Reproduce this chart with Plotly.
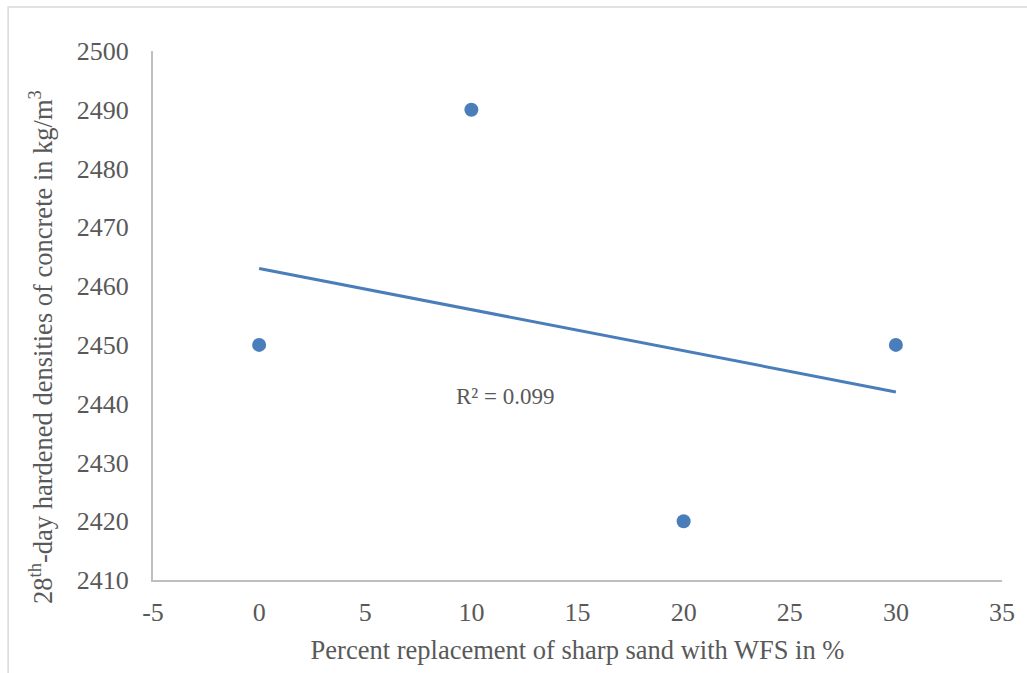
import numpy as np
import plotly.graph_objects as go

replacement = [0, 10, 20, 30]
density = [2450, 2490, 2420, 2450]
x_ticks = [-5, 0, 5, 10, 15, 20, 25, 30, 35]
x_tick_labels = ["-5", "0", "5", "10", "15", "20", "25", "30", "35"]
y_ticks = [2410, 2420, 2430, 2440, 2450, 2460, 2470, 2480, 2490, 2500]

xs = np.array(replacement, dtype=float)
ys = np.array(density, dtype=float)
slope, intercept = np.polyfit(xs, ys, 1)
fit = slope * xs + intercept
r2 = 1 - np.sum((ys - fit) ** 2) / np.sum((ys - ys.mean()) ** 2)

blue = "#4a7ebb"
grey = "#595959"
font = "'Liberation Serif', 'Times New Roman', 'DejaVu Serif', serif"

fig = go.Figure()
fig.add_trace(go.Scatter(x=[xs.min(), xs.max()], y=[fit[0], fit[-1]], mode="lines",
                         line=dict(color=blue, width=3), hoverinfo="skip", showlegend=False))
fig.add_trace(go.Scatter(x=replacement, y=density, mode="markers",
                         marker=dict(color=blue, size=14), showlegend=False))

fig.add_annotation(x=11.6, y=2441.2, text=f"R² = {r2:.3f}", showarrow=False,
                   font=dict(family=font, size=23, color=grey))

# y-axis title (placed as annotation to match reference's vertical offset)
fig.add_annotation(xref="paper", yref="paper", x=-0.132, y=0.4405, textangle=-90,
                   text="28<sup>th</sup>-day hardened densities of concrete in kg/m<sup>3</sup>",
                   showarrow=False, xanchor="center", yanchor="middle",
                   font=dict(size=26.5, family=font, color=grey))

fig.add_shape(type="rect", xref="paper", yref="paper", x0=-0.1706, y0=-0.2, x1=1.05, y1=1.083,
              line=dict(color="#d9d9d9", width=1.5), layer="below")

fig.update_layout(
    width=1027, height=673,
    margin=dict(l=153, r=18, t=51, b=93),
    plot_bgcolor="white", paper_bgcolor="white",
    font=dict(family=font, color=grey),
    xaxis=dict(range=[-5, 35], tickvals=x_ticks, ticktext=x_tick_labels, showgrid=False, zeroline=False,
               showline=True, linecolor="#bfbfbf", linewidth=2, ticks="", ticklabelstandoff=8,
               tickfont=dict(size=26, family=font, color=grey),
               title=dict(text="Percent replacement of sharp sand with WFS in %",
                          font=dict(size=26.5, family=font, color=grey), standoff=14)),
    yaxis=dict(range=[2410, 2500], tickvals=y_ticks, showgrid=False, zeroline=False,
               showline=True, linecolor="#bfbfbf", linewidth=2, ticks="", ticklabelstandoff=17,
               tickfont=dict(size=26, family=font, color=grey)),
)

fig.write_html("out.html")
